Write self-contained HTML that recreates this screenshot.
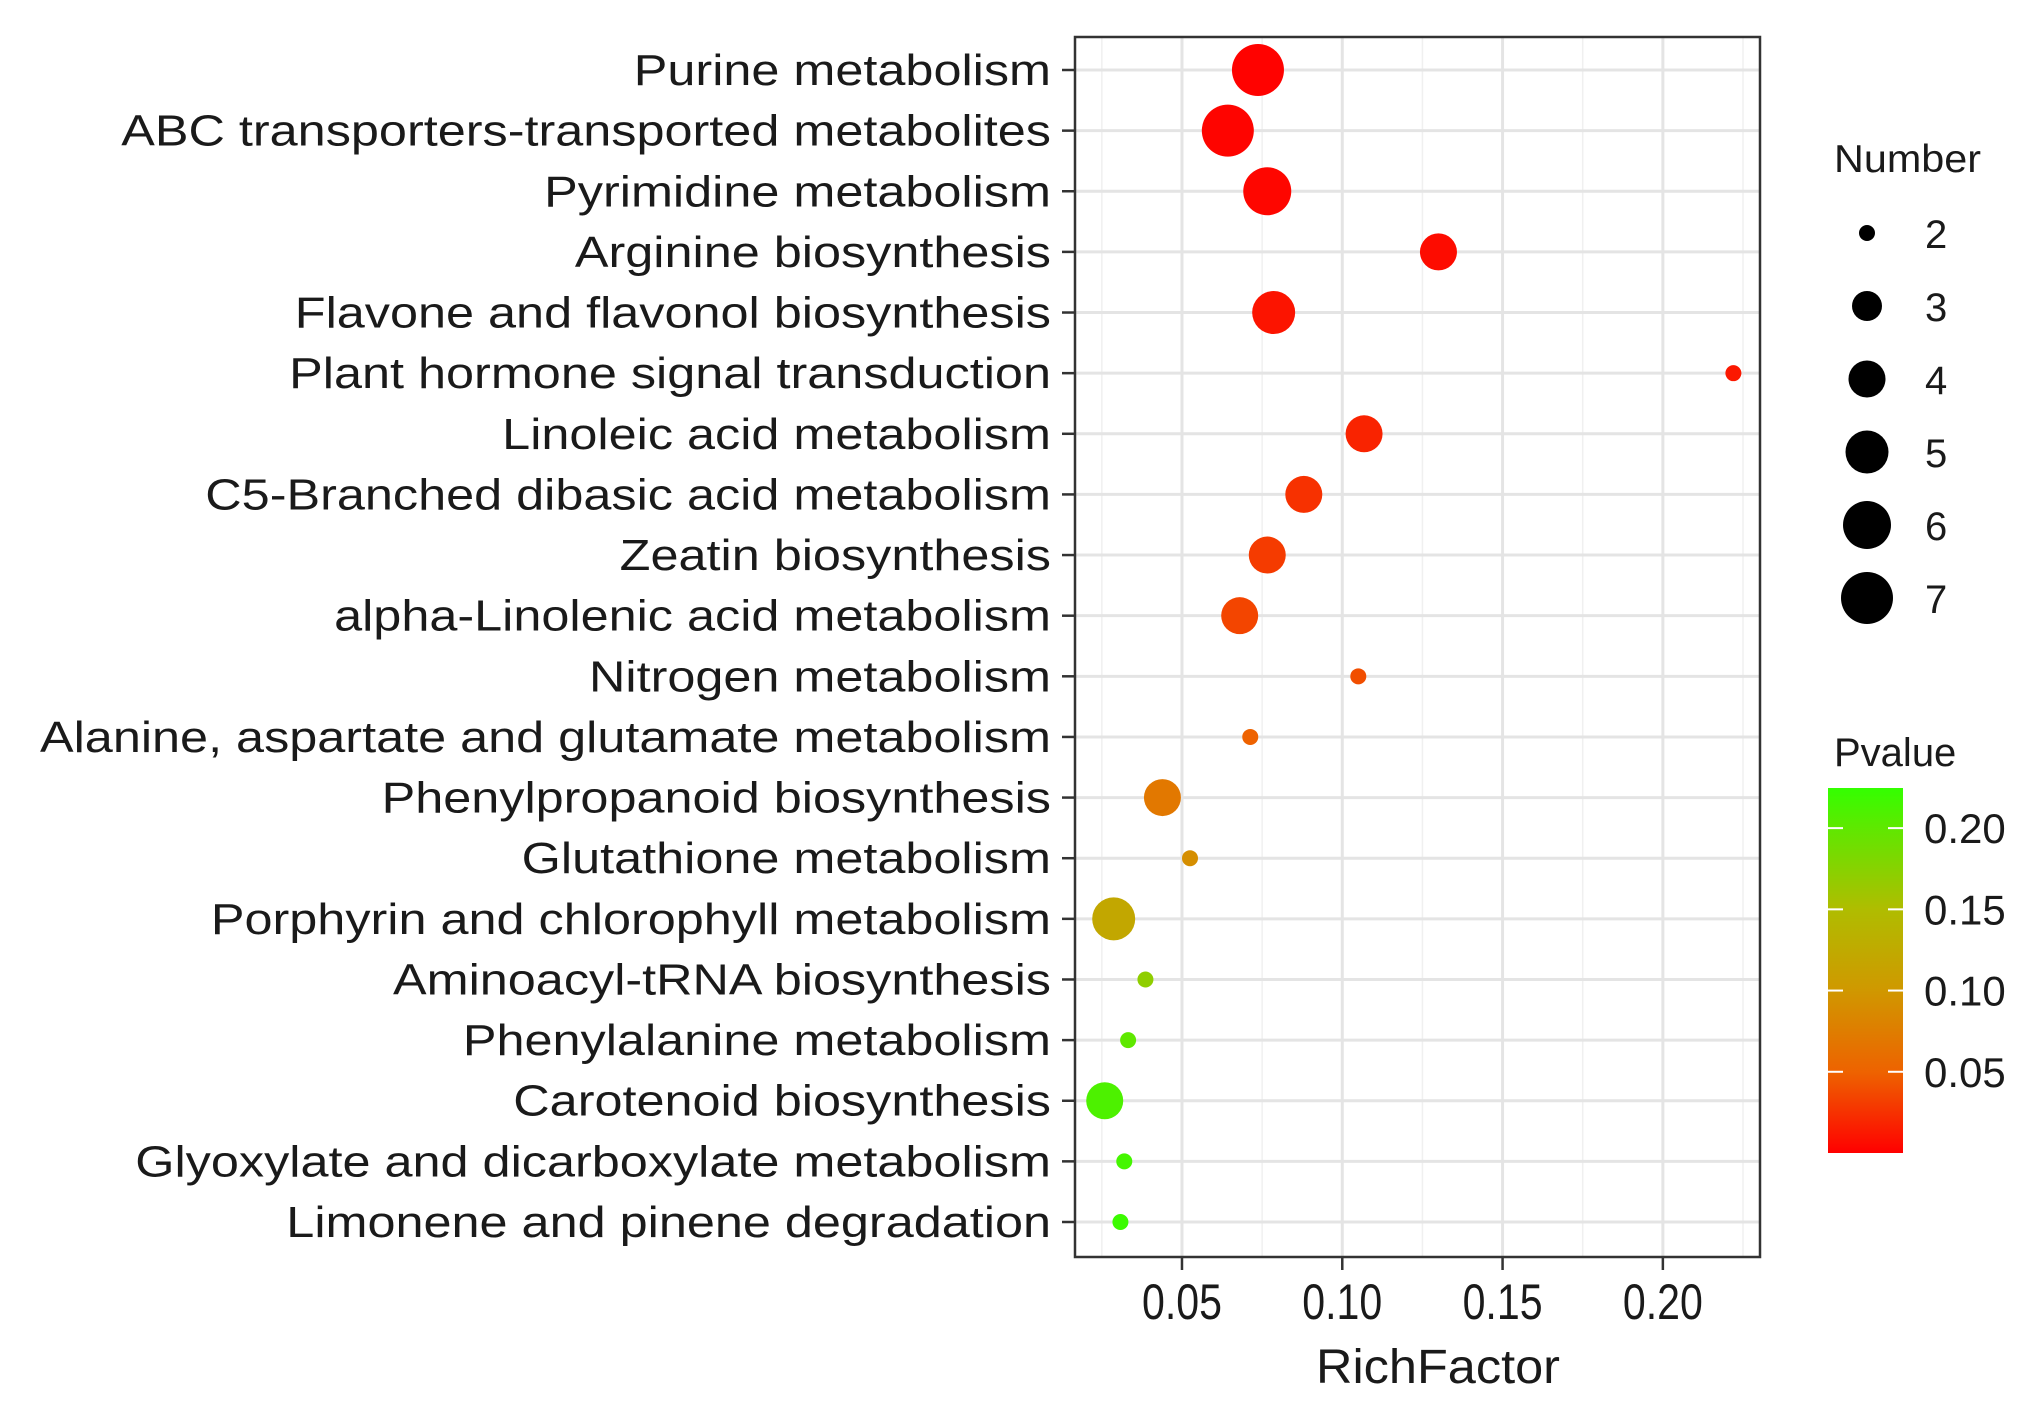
<!DOCTYPE html>
<html><head><meta charset="utf-8"><style>
html,body{margin:0;padding:0;background:#fff;}
svg{display:block;}
text{font-family:"Liberation Sans",Arial,sans-serif;fill:#1a1a1a;}
</style></head><body>
<svg id="chart" width="2044" height="1420" viewBox="0 0 2044 1420" xmlns="http://www.w3.org/2000/svg">
<defs>
<linearGradient id="pgrad" x1="0" y1="1" x2="0" y2="0">
<stop offset="0" stop-color="#ff0000"/>
<stop offset="0.22" stop-color="#ee6200"/>
<stop offset="0.45" stop-color="#cf9900"/>
<stop offset="0.67" stop-color="#afbd00"/>
<stop offset="0.89" stop-color="#5fe800"/>
<stop offset="1" stop-color="#33ff00"/>
</linearGradient>
</defs>
<g id="grid"></g>
<g id="points"></g>
<rect x="1075" y="37" width="685" height="1220" fill="none" stroke="#333" stroke-width="2.5"/>
<g id="yaxis"></g>
<g id="xaxis"></g>
<text x="1438" y="1383" font-size="48" text-anchor="middle" textLength="244" lengthAdjust="spacingAndGlyphs">RichFactor</text>
<g id="sizeLegend">
<text x="1834" y="172" font-size="39" textLength="147" lengthAdjust="spacingAndGlyphs">Number</text>
</g>
<g id="colorLegend">
<text x="1834" y="766" font-size="40">Pvalue</text>
<rect x="1828" y="788" width="75" height="365" fill="url(#pgrad)"/>
</g>
</svg>
<script>
const categories = ["Purine metabolism","ABC transporters-transported metabolites","Pyrimidine metabolism","Arginine biosynthesis","Flavone and flavonol biosynthesis","Plant hormone signal transduction","Linoleic acid metabolism","C5-Branched dibasic acid metabolism","Zeatin biosynthesis","alpha-Linolenic acid metabolism","Nitrogen metabolism","Alanine, aspartate and glutamate metabolism","Phenylpropanoid biosynthesis","Glutathione metabolism","Porphyrin and chlorophyll metabolism","Aminoacyl-tRNA biosynthesis","Phenylalanine metabolism","Carotenoid biosynthesis","Glyoxylate and dicarboxylate metabolism","Limonene and pinene degradation"];
const richFactor = [0.0737,0.0643,0.0766,0.130,0.0786,0.222,0.1068,0.088,0.0766,0.068,0.105,0.0713,0.0439,0.0525,0.0287,0.0386,0.0332,0.0259,0.032,0.0308];
const numbers = [7,7,6,4,5,2,4,4,4,4,2,2,4,2,5,2,2,4,2,2];
const pvalues = [0.001,0.002,0.003,0.006,0.01,0.012,0.018,0.025,0.03,0.035,0.04,0.05,0.07,0.09,0.12,0.17,0.2,0.21,0.215,0.22];
const xTicks = [0.05,0.10,0.15,0.20];
const xTickLabels = ["0.05","0.10","0.15","0.20"];
const sizeLegendValues = [2,3,4,5,6,7];
const colorTicks = [0.05,0.10,0.15,0.20];
const colorTickLabels = ["0.05","0.10","0.15","0.20"];

const NS="http://www.w3.org/2000/svg";
const X0=1075,X1=1760,XMIN=0.01663,XMAX=0.2303;
function xs(v){return X0+(v-XMIN)/(XMAX-XMIN)*(X1-X0);}
function ys(i){return 70+i*(1222-70)/(categories.length-1);}
function rs(n){const t={2:8,3:15,4:18.5,5:21.5,6:24,7:26};if(t[n])return t[n];return Math.sqrt(64+(n-2)*122);}
function cs(p){return 1153-(p/0.2247)*365;}
const stops=[[0,[255,0,0]],[0.05,[238,98,0]],[0.10,[207,153,0]],[0.15,[175,189,0]],[0.20,[95,232,0]],[0.2247,[51,255,0]]];
function color(p){
 for(let i=0;i<stops.length-1;i++){const a=stops[i],b=stops[i+1];
  if(p<=b[0]||i===stops.length-2){const t=Math.max(0,Math.min(1,(p-a[0])/(b[0]-a[0])));
   const c=a[1].map((v,k)=>Math.round(v+(b[1][k]-v)*t));return `rgb(${c[0]},${c[1]},${c[2]})`;}}
}
function mk(tag,attrs,parent){const e=document.createElementNS(NS,tag);for(const k in attrs)e.setAttribute(k,attrs[k]);parent.appendChild(e);return e;}

const grid=document.getElementById('grid');
mk('rect',{x:X0,y:37,width:X1-X0,height:1220,fill:'#fff'},grid);
const minor=[];for(let i=0;i<xTicks.length+1;i++){minor.push(xTicks[0]-0.025+i*0.05);}
minor.forEach(v=>{if(v>XMIN&&v<XMAX){const l=mk('line',{x1:xs(v),x2:xs(v),y1:37,y2:1257,stroke:'#f0f0f0','stroke-width':1.5},grid);

}});
xTicks.forEach(v=>{const l=mk('line',{x1:xs(v),x2:xs(v),y1:37,y2:1257,stroke:'#e4e4e4','stroke-width':3},grid);

});
categories.forEach((c,i)=>{const l=mk('line',{x1:X0,x2:X1,y1:ys(i),y2:ys(i),stroke:'#e4e4e4','stroke-width':3},grid);

});

const yaxis=document.getElementById('yaxis');
categories.forEach((c,i)=>{
 const t=mk('line',{x1:1062,x2:X0,y1:ys(i),y2:ys(i),stroke:'#333','stroke-width':2.5},yaxis);
 
 
 const tx=mk('text',{x:1051,y:ys(i)+15,'font-size':44,'text-anchor':'end'},yaxis);
 tx.textContent=c;
 
 
 const w=tx.getComputedTextLength();
 tx.setAttribute('textLength',(w*1.145).toFixed(1));
 tx.setAttribute('lengthAdjust','spacingAndGlyphs');
});

const xaxis=document.getElementById('xaxis');
xTicks.forEach((v,i)=>{
 const t=mk('line',{x1:xs(v),x2:xs(v),y1:1257,y2:1270,stroke:'#333','stroke-width':2.5},xaxis);
 
 
 const tx=mk('text',{x:xs(v),y:1319,'font-size':50,'text-anchor':'middle',textLength:80,lengthAdjust:'spacingAndGlyphs'},xaxis);
 tx.textContent=xTickLabels[i];
 
 
});

const pts=document.getElementById('points');
categories.forEach((c,i)=>{
 const ci=mk('circle',{cx:xs(richFactor[i]),cy:ys(i),r:rs(numbers[i]),fill:color(pvalues[i])},pts);
 
 
});

const sl=document.getElementById('sizeLegend');
sizeLegendValues.forEach((n,i)=>{
 const y=233+i*73;
 const ci=mk('circle',{cx:1867,cy:y,r:rs(n),fill:'#000'},sl);
 
 
 const tx=mk('text',{x:1925,y:y+15,'font-size':40},sl);
 tx.textContent=String(n);
 
 
});

const cl=document.getElementById('colorLegend');
colorTicks.forEach((v,i)=>{
 const y=cs(v);
 const a=mk('line',{x1:1828,x2:1843,y1:y,y2:y,stroke:'#fff','stroke-width':2},cl);
 
 
 const b=mk('line',{x1:1888,x2:1903,y1:y,y2:y,stroke:'#fff','stroke-width':2},cl);
 
 
 const tx=mk('text',{x:1924,y:y+15,'font-size':42},cl);
 tx.textContent=colorTickLabels[i];
 
 
});
</script>
</body></html>
